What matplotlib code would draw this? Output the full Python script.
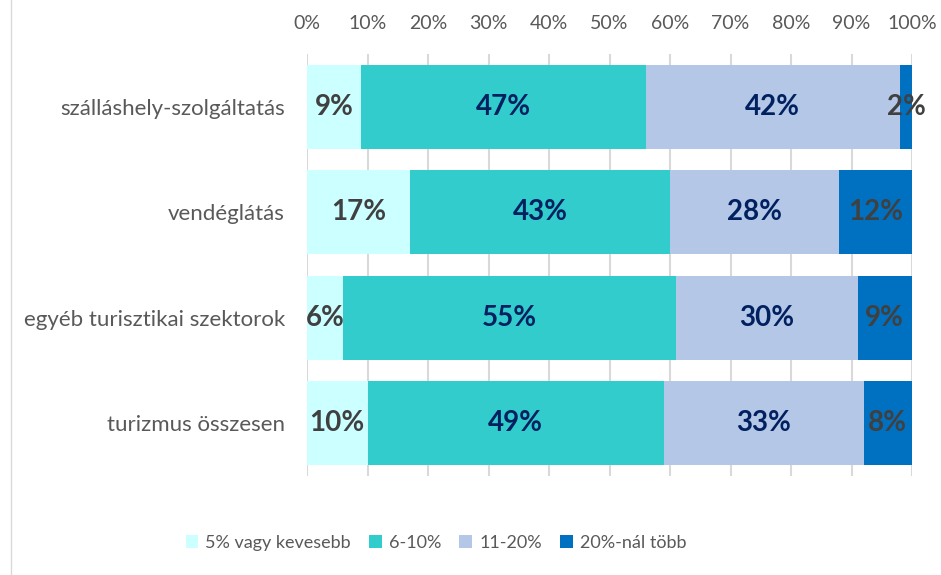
import matplotlib
matplotlib.use("Agg")
import matplotlib.pyplot as plt
from matplotlib.patches import Patch
from matplotlib.lines import Line2D
import numpy as np

categories = ["szálláshely-szolgáltatás", "vendéglátás", "egyéb turisztikai szektorok", "turizmus összesen"]
series_names = ["5% vagy kevesebb", "6-10%", "11-20%", "20%-nál több"]
s1 = [9, 17, 6, 10]
s2 = [47, 43, 55, 49]
s3 = [42, 28, 30, 33]
s4 = [2, 12, 9, 8]
tick_labels = ["0%", "10%", "20%", "30%", "40%", "50%", "60%", "70%", "80%", "90%", "100%"]

colors = ["#CCFFFF", "#33CCCC", "#B4C7E7", "#0070C0"]
label_colors = ["#404040", "#002060", "#002060", "#404040"]
FONT = "Lato"

W, H = 941, 575
fig = plt.figure(figsize=(W / 100, H / 100), dpi=100)
ax = fig.add_axes([307 / W, 1 - 476 / H, (912 - 307) / W, (476 - 54) / H])

y = np.arange(len(categories))
left = np.zeros(len(categories))
for vals, col, lc, name in zip([s1, s2, s3, s4], colors, label_colors, series_names):
    vals = np.array(vals, dtype=float)
    ax.barh(y, vals, left=left, height=0.8, color=col, zorder=2, label=name)
    for yi, v, l in zip(y, vals, left):
        ax.text(l + v / 2, yi, f"{int(v)}%", ha="center", va="center", color=lc,
                fontsize=20, fontweight="bold", family=FONT, zorder=3)
    left += vals

ax.set_xlim(0, 100)
ax.set_ylim(len(categories) - 0.5, -0.5)
ax.set_xticks(np.arange(0, 101, 10))
ax.set_xticklabels(tick_labels, family=FONT, fontsize=14, color="#595959")
ax.xaxis.tick_top()
ax.tick_params(axis="x", length=0, pad=16)
ax.set_yticks(y)
ax.set_yticklabels(categories, family=FONT, fontsize=16, color="#595959")
ax.tick_params(axis="y", length=0, pad=16)
ax.grid(axis="x", color="#D9D9D9", linewidth=1.5, zorder=0)
for sp in ax.spines.values():
    sp.set_visible(False)

# left border of chart area
fig.add_artist(Line2D([11 / W, 11 / W], [0, 1], color="#D9D9D9", linewidth=1))

handles = [Patch(facecolor=c, edgecolor="none") for c in colors]
leg = fig.legend(handles, series_names, loc="center", bbox_to_anchor=(436 / W, 1 - 543 / H),
                 ncol=4, frameon=False, prop={"family": FONT, "size": 13},
                 handlelength=0.7, handleheight=0.7, handletextpad=0.4, columnspacing=1.0)
for t in leg.get_texts():
    t.set_color("#595959")

fig.savefig("out.png", dpi=100)
